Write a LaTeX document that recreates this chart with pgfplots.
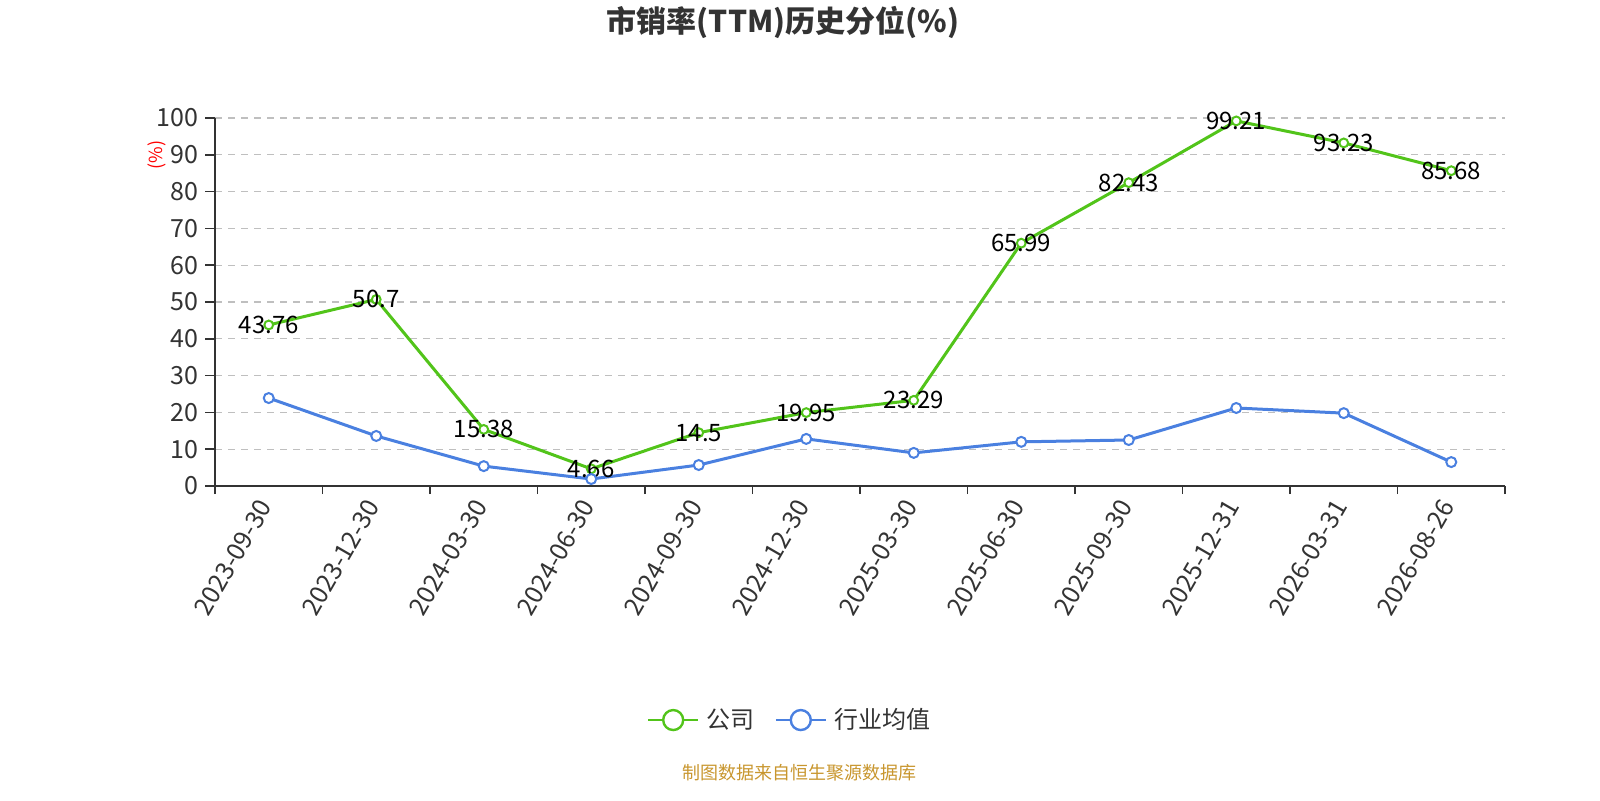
\documentclass[border=0pt]{standalone}
\usepackage{pgfplots}
\pgfplotsset{compat=1.18}
\usepackage{fontspec}
\setmainfont{Noto Sans CJK SC}
\definecolor{cgreen}{HTML}{52C41A}
\definecolor{cblue}{HTML}{4A80E0}
\definecolor{ctext}{HTML}{333333}
\definecolor{cfoot}{HTML}{C8962E}
\begin{document}
\begin{tikzpicture}
\path[use as bounding box] (0,0) rectangle (800pt,400pt);
\begin{axis}[
  at={(107.5pt,157pt)}, anchor=south west,
  scale only axis, width=645pt, height=184pt,
  xmin=-0.5, xmax=11.5, ymin=0, ymax=100,
  axis x line=bottom, axis y line=left,
  axis line style={-, draw=ctext, line width=0.8pt},
  /pgf/number format/assume math mode=true,
  xtick={0,1,2,3,4,5,6,7,8,9,10,11},
  xticklabels={2023-09-30,2023-12-30,2024-03-30,2024-06-30,2024-09-30,2024-12-30,2025-03-30,2025-06-30,2025-09-30,2025-12-31,2026-03-31,2026-08-26},
  minor xtick={-0.5,0.5,1.5,2.5,3.5,4.5,5.5,6.5,7.5,8.5,9.5,10.5,11.5},
  major x tick style={draw=none},
  minor x tick style={draw=ctext, line width=0.8pt},
  minor tick length=4pt,
  ytick={0,10,20,30,40,50,60,70,80,90,100},
  major y tick style={draw=ctext, line width=0.8pt},
  major tick length=5pt,
  tick align=outside,
  ymajorgrids,
  grid style={dash pattern=on 3.5pt off 3pt, draw=black!25, line width=0.6pt},
  x tick label style={rotate=60, anchor=east, font=\fontsize{12.5}{12.5}\selectfont, text=ctext},
  y tick label style={font=\fontsize{12.5}{12.5}\selectfont, text=ctext},
  legend style={at={(0.4465,-0.636)}, anchor=center, draw=none, fill=none,
    legend columns=2, font=\fontsize{12}{12}\selectfont, text=ctext,
    /tikz/every odd column/.append style={column sep=2pt},
    /tikz/every even column/.append style={column sep=8pt}},
  legend image code/.code={
    \draw[#1, line width=0.8pt] (0pt,0pt) -- (25pt,0pt);
    \draw[#1, fill=white, line width=1.2pt] (12.5pt,0pt) circle (5pt);
  },
]
\addplot[cgreen, line width=1.5pt, mark=*, mark size=2.2pt,
  mark options={fill=white, draw=cgreen, line width=1pt},
  point meta=explicit symbolic, nodes near coords,
  nodes near coords style={anchor=center, text=black, font=\fontsize{12}{12}\selectfont}]
coordinates {
(0,43.76) [43.76]
(1,50.7) [50.7]
(2,15.38) [15.38]
(3,4.66) [4.66]
(4,14.5) [14.5]
(5,19.95) [19.95]
(6,23.29) [23.29]
(7,65.99) [65.99]
(8,82.43) [82.43]
(9,99.21) [99.21]
(10,93.23) [93.23]
(11,85.68) [85.68]
};
\addlegendentry{公司}
\addplot[cblue, line width=1.5pt, mark=*, mark size=2.5pt,
  mark options={fill=white, draw=cblue, line width=1pt}]
coordinates {
(0,23.9)
(1,13.6)
(2,5.4)
(3,1.9)
(4,5.7)
(5,12.8)
(6,9.0)
(7,12.0)
(8,12.5)
(9,21.2)
(10,19.8)
(11,6.5)
};
\addlegendentry{行业均值}
\end{axis}
\node[font=\fontsize{15}{15}\selectfont\bfseries, text=ctext] at (391.5pt,389pt) {市销率(TTM)历史分位(\%)};
\node[rotate=90, text=red, font=\fontsize{9}{9}\selectfont] at (78.5pt,322.5pt) {(\%)};
\node[text=cfoot, font=\fontsize{9}{9}\selectfont] at (399.5pt,13.5pt) {制图数据来自恒生聚源数据库};
\end{tikzpicture}
\end{document}
